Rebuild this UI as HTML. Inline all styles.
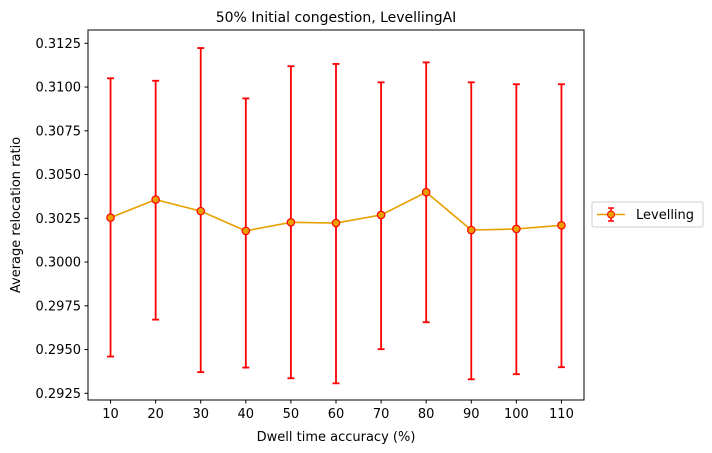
<!DOCTYPE html>
<html><head><meta charset="utf-8"><style>
body{margin:0;background:#fff;}
svg{display:block;font-family:"DejaVu Sans","Liberation Sans",sans-serif;}
</style></head><body>
<svg id="chart" width="712" height="453" viewBox="0 0 712 453" xmlns="http://www.w3.org/2000/svg">
<rect width="712" height="453" fill="#fff"/>
<text x="336" y="22" font-size="14" text-anchor="middle">50% Initial congestion, LevellingAI</text>
<g id="grid"></g>
<g id="series"></g>
<rect x="88" y="30" width="496" height="370" fill="none" stroke="#000" stroke-width="1"/>
<text transform="translate(20,215) rotate(-90)" font-size="13" text-anchor="middle">Average relocation ratio</text>
<text x="336" y="441" font-size="13" text-anchor="middle">Dwell time accuracy (%)</text>
<g>
<rect x="592" y="202" width="111" height="25" rx="2" fill="#fff" stroke="#ccc"/>
<line x1="597" y1="214.5" x2="625" y2="214.5" stroke="#e8a000" stroke-width="1.5"/>
<line x1="611" y1="208" x2="611" y2="221" stroke="#f00" stroke-width="1.5"/>
<line x1="608" y1="208" x2="614" y2="208" stroke="#f00" stroke-width="1.5"/>
<line x1="608" y1="221" x2="614" y2="221" stroke="#f00" stroke-width="1.5"/>
<circle cx="611" cy="214.5" r="3.5" fill="#e8a000" stroke="#f00" stroke-width="1"/>
<text x="636" y="219" font-size="13">Levelling</text>
</g>
</svg>
<script>
const categories=[10,20,30,40,50,60,70,80,90,100,110];
const means=[0.30254,0.30357,0.30291,0.30178,0.30227,0.30223,0.30269,0.30399,0.30183,0.30189,0.30210];
const upper=[0.31050,0.31036,0.31223,0.30935,0.31119,0.31132,0.31027,0.31141,0.31027,0.31016,0.31016];
const lower=[0.29460,0.29671,0.29371,0.29397,0.29336,0.29307,0.29502,0.29656,0.29330,0.29359,0.29399];
const yTicks=[0.2925,0.2950,0.2975,0.3000,0.3025,0.3050,0.3075,0.3100,0.3125];
const yTickLabels=["0.2925","0.2950","0.2975","0.3000","0.3025","0.3050","0.3075","0.3100","0.3125"];

const NS="http://www.w3.org/2000/svg";
function xs(v){return 88+(v-5)*(496/110);}
function ys(v){return 393.3-(v-0.2925)*(350/0.02);}
function mk(tag,attrs,parent){const e=document.createElementNS(NS,tag);for(const k in attrs)e.setAttribute(k,attrs[k]);parent.appendChild(e);return e;}
const grid=document.getElementById('grid');
const ser=document.getElementById('series');
yTicks.forEach((t,i)=>{
  const y=ys(t);
  const l=mk('line',{x1:84.5,x2:88,y1:y,y2:y,stroke:'#000'},grid);
  
  
  const tx=mk('text',{x:81,y:y+4.5,'font-size':13,'text-anchor':'end'},grid);
  tx.textContent=yTickLabels[i];
  
  
});
categories.forEach(c=>{
  const x=xs(c);
  const l=mk('line',{x1:x,x2:x,y1:400,y2:403.5,stroke:'#000'},grid);
  
  
  const tx=mk('text',{x:x,y:418,'font-size':13,'text-anchor':'middle'},grid);
  tx.textContent=String(c);
  
  
});
categories.forEach((c,i)=>{
  const x=xs(c),yt=ys(upper[i]),yb=ys(lower[i]);
  const g=mk('g',{stroke:'#f00','stroke-width':1.8},ser);
  
  
  mk('line',{x1:x,x2:x,y1:yt,y2:yb},g);
  mk('line',{x1:x-3.5,x2:x+3.5,y1:yt,y2:yt},g);
  mk('line',{x1:x-3.5,x2:x+3.5,y1:yb,y2:yb},g);
});
const pts=categories.map((c,i)=>xs(c)+','+ys(means[i])).join(' ');
const pl=mk('polyline',{points:pts,fill:'none',stroke:'#e8a000','stroke-width':1.6},ser);


categories.forEach((c,i)=>{
  const p=mk('circle',{cx:xs(c),cy:ys(means[i]),r:3.7,fill:'#e8a000',stroke:'#f00','stroke-width':1.2},ser);
  
  
});
</script>
</body></html>
